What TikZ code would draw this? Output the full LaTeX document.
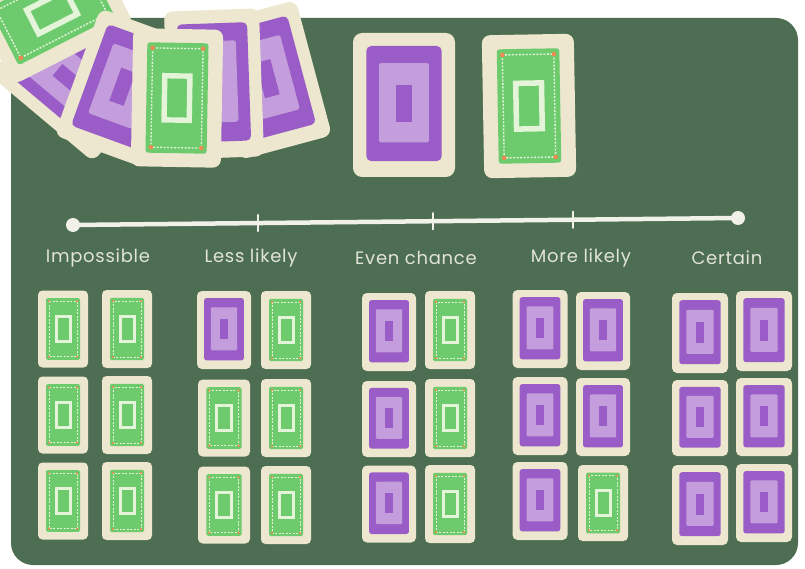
\documentclass[tikz,border=0pt]{standalone}
\usepackage{fontspec}
\newfontfamily\labelfont[LetterSpace=4]{Poppins}
\usetikzlibrary{calc}

\definecolor{board}{HTML}{4D6E52}
\definecolor{cream}{HTML}{ECE7CE}
\definecolor{cardpurple}{HTML}{9A5CC6}
\definecolor{lavender}{HTML}{C49DDC}
\definecolor{cardgreen}{HTML}{6DCB6E}
\definecolor{trim}{HTML}{E3F4D8}
\definecolor{speck}{HTML}{EE8A50}
\definecolor{chalk}{HTML}{F1F1EA}
\definecolor{labelgrey}{HTML}{E2E3DA}

% card back: centre x, centre y, width, height, rotation
\newcommand{\backcard}[5]{%
  \begin{scope}[shift={(#1,#2)},rotate=#5]
    \fill[cream,rounded corners={0.09*#3pt}] (-#3/2,-#4/2) rectangle (#3/2,#4/2);
    \fill[cardpurple,rounded corners={0.05*#3pt}] (-0.37*#3,-0.41*#4) rectangle (0.37*#3,0.39*#4);
    \fill[lavender,rounded corners={0.02*#3pt}] (-0.245*#3,-0.29*#4) rectangle (0.245*#3,0.26*#4);
    \fill[cardpurple] (-0.08*#3,-0.14*#4) rectangle (0.08*#3,0.12*#4);
  \end{scope}}

% card face: centre x, centre y, width, height, rotation
\newcommand{\facecard}[5]{%
  \begin{scope}[shift={(#1,#2)},rotate=#5]
    \fill[cream,rounded corners={0.09*#3pt}] (-#3/2,-#4/2) rectangle (#3/2,#4/2);
    \fill[cardgreen,rounded corners={0.03*#3pt}] (-0.34*#3,-0.4*#4) rectangle (0.34*#3,0.4*#4);
    \draw[trim,line width={0.015*#3pt},dash pattern=on 2pt off 1.5pt] (-0.28*#3,-0.36*#4) rectangle (0.28*#3,0.36*#4);
    \draw[trim,line width={0.06*#3pt}] (-0.14*#3,-0.16*#4) rectangle (0.14*#3,0.16*#4);
    \foreach \sx in {-1,1} \foreach \sy in {-1,1}
      \fill[speck] (\sx*0.28*#3,\sy*0.36*#4) circle[radius={0.025*#3pt}];
  \end{scope}}

\tikzset{
  axis/.style={chalk,line width=4.5pt,line cap=round},
  tickmark/.style={chalk,line width=2.5pt,line cap=round},
  enddot/.style={circle,fill=chalk,inner sep=0pt,minimum size=14pt},
  lbl/.style={text=labelgrey,font=\labelfont\fontsize{18}{18}\selectfont,inner sep=0pt}
}

\begin{document}
\begin{tikzpicture}[x=1pt,y=-1pt]
  \useasboundingbox (0,0) rectangle (805,569);
  \clip (0,0) rectangle (805,569);
  \fill[white] (0,0) rectangle (805,569);

  % table top
  \fill[board,rounded corners=22pt] (11,18) rectangle (798,565);

  % scattered pile, back to front
  \backcard{72}{82}{95}{135}{50}
  \facecard{52}{12}{95}{135}{-63}
  \backcard{122}{88}{95}{135}{-20}
  \backcard{268}{80}{95}{140}{15}
  \backcard{214}{84}{95}{148}{2}
  \facecard{177}{98}{90}{138}{-1}

  % two cards on show
  \backcard{404}{105}{102}{144}{0}
  \facecard{529}{106}{92}{143}{1}

  % probability line
  \node[enddot] (lo) at (73,225) {};
  \node[enddot] (hi) at (738,218) {};
  \draw[axis] (lo.center) -- (hi.center);
  \foreach \f/\n in {0.278/t1,0.541/t2,0.752/t3}{
    \coordinate (\n) at ($(lo.center)!\f!(hi.center)$);
    \draw[tickmark] ($(\n)+(0,-8)$) -- ($(\n)+(0,8)$);
  }

  % scale labels
  \node[lbl] (l0) at (98,258) {Impossible};
  \node[lbl] (l1) at (251,258) {Less likely};
  \node[lbl] (l2) at (416,258) {Even chance};
  \node[lbl] (l3) at (581,258) {More likely};
  \node[lbl] (l4) at (727,258) {Certain};

  % Impossible
  \facecard{63}{329}{50}{77}{0}   \facecard{127}{329}{50}{78}{0}
  \facecard{63}{415}{50}{77}{0}   \facecard{127}{415}{50}{78}{0}
  \facecard{63}{501}{50}{77}{0}   \facecard{127}{501}{50}{78}{0}
  % Less likely
  \backcard{224}{330}{54}{78}{0}  \facecard{286}{330}{50}{78}{0}
  \facecard{224}{418}{52}{77}{0}  \facecard{286}{418}{50}{78}{0}
  \facecard{224}{505}{52}{77}{0}  \facecard{286}{505}{50}{78}{0}
  % Even chance
  \backcard{389}{332}{54}{78}{0}  \facecard{450}{330}{50}{78}{0}
  \backcard{389}{419}{54}{76}{0}  \facecard{450}{418}{50}{78}{0}
  \backcard{389}{504}{54}{77}{0}  \facecard{450}{504}{50}{78}{0}
  % More likely
  \backcard{540}{329}{55}{78}{0}  \backcard{603}{331}{54}{78}{0}
  \backcard{540}{416}{55}{78}{0}  \backcard{603}{417}{54}{78}{0}
  \backcard{540}{501}{55}{78}{0}  \facecard{603}{503}{50}{76}{0}
  % Certain
  \backcard{700}{333}{56}{80}{0}  \backcard{764}{331}{56}{80}{0}
  \backcard{700}{418}{56}{76}{0}  \backcard{764}{417}{56}{78}{0}
  \backcard{700}{505}{56}{80}{0}  \backcard{764}{503}{56}{78}{0}
\end{tikzpicture}
\end{document}
